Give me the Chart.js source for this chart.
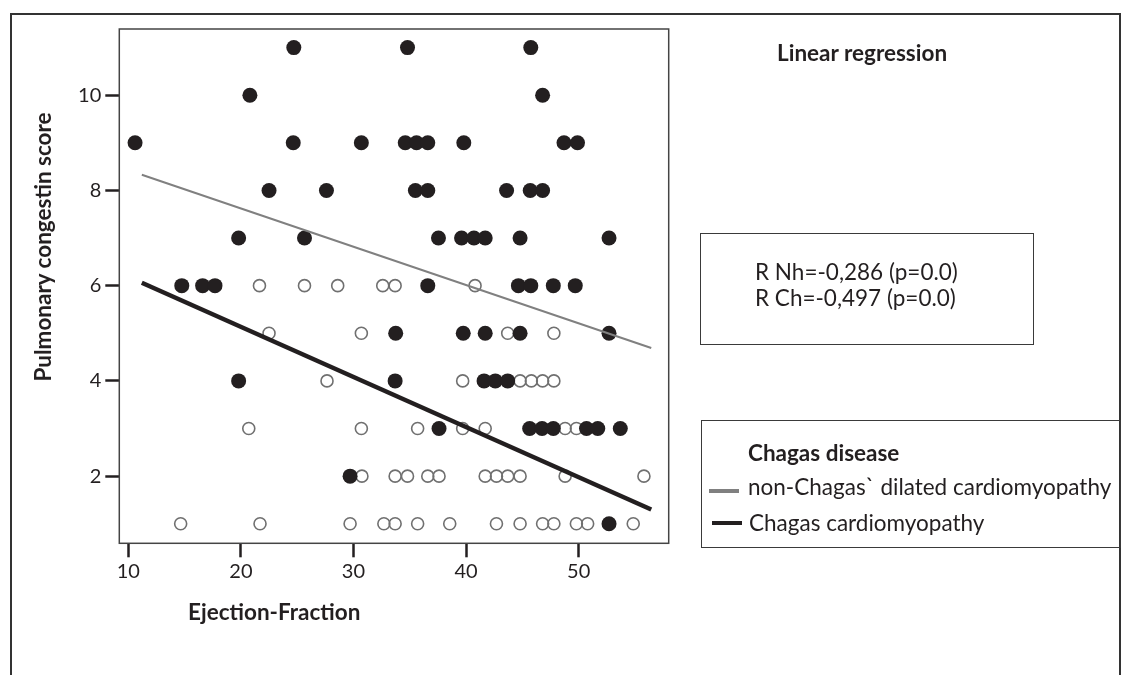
<!DOCTYPE html>
<html>
<head>
<meta charset="utf-8">
<script src="https://cdn.jsdelivr.net/npm/chart.js@4.4.1/dist/chart.umd.min.js"></script>
<style>
  html, body { margin: 0; padding: 0; background: #fff; }
  #wrap { position: relative; width: 1123px; height: 675px; overflow: hidden; font-family: Lato, "Open Sans", sans-serif; color: #231f20; }
  #c { position: absolute; left: 0; top: 0; }
  .abs { position: absolute; white-space: nowrap; }
  .vc { transform: translateY(-50%); line-height: 1; }
  .box { position: absolute; border: 1.5px solid #3a3a3a; box-sizing: border-box; }
  .bar { position: absolute; height: 4px; }
  .t { font-size: 22.5px; }
  .b { font-weight: bold; }
</style>
</head>
<body>
<div id="wrap">
  <canvas id="c" width="1123" height="675"></canvas>
  <div class="abs" style="left:10px; top:13px; width:1111px; height:700px; border:2px solid #333; border-bottom:none; box-sizing:border-box;"></div>
  <div class="abs t b" style="left:43px; top:247px; line-height:1; transform: translate(-50%,-50%) rotate(-90deg);">Pulmonary congestin score</div>
  <div class="abs vc t b" style="left:777px; top:53px;">Linear regression</div>
  <div class="box" style="left:700px; top:233px; width:334px; height:112px;"></div>
  <div class="abs vc t" style="left:755px; top:272px;">R Nh=-0,286 (p=0.0)</div>
  <div class="abs vc t" style="left:755px; top:298px;">R Ch=-0,497 (p=0.0)</div>
  <div class="box" style="left:701px; top:420px; width:420px; height:128px;"></div>
  <div class="abs vc t b" style="left:748px; top:453px;">Chagas disease</div>
  <div class="bar" style="left:709px; top:489px; width:30px; background:#808080;"></div>
  <div class="abs vc t" style="left:748px; top:487px;">non-Chagas` dilated cardiomyopathy</div>
  <div class="bar" style="left:712px; top:521px; width:30px; background:#231f20;"></div>
  <div class="abs vc t" style="left:749px; top:523px;">Chagas cardiomyopathy</div>
  <div class="abs vc t b" style="left:188px; top:612px;">Ejection-Fraction</div>
</div>
<script>
// ---- data ----
const xTicks = [10, 20, 30, 40, 50];
const yTicks = [2, 4, 6, 8, 10];

// non-Chagas dilated cardiomyopathy (filled markers)
const nonChagasX = [
  24.7, 34.8, 45.75,
  20.8, 46.8,
  10.6, 24.65, 30.7, 34.6, 35.6, 36.6, 39.8, 48.7, 49.9,
  22.5, 27.6, 35.5, 36.6, 43.6, 45.7, 46.8,
  19.8, 25.65, 37.55, 39.6, 40.7, 41.7, 44.8, 52.7,
  14.75, 16.6, 17.7, 36.6, 44.65, 45.75, 47.75, 49.7,
  33.75, 39.75, 41.7, 44.8, 52.7,
  19.8, 33.7, 41.6, 42.6, 43.7,
  37.6, 45.65, 46.75, 47.75, 50.7, 51.7, 53.7,
  29.7,
  52.7
];
const nonChagasY = [
  11, 11, 11,
  10, 10,
  9, 9, 9, 9, 9, 9, 9, 9, 9,
  8, 8, 8, 8, 8, 8, 8,
  7, 7, 7, 7, 7, 7, 7, 7,
  6, 6, 6, 6, 6, 6, 6, 6,
  5, 5, 5, 5, 5,
  4, 4, 4, 4, 4,
  3, 3, 3, 3, 3, 3, 3,
  2,
  1
];

// Chagas cardiomyopathy (open markers)
const chagasX = [
  21.65, 25.65, 28.6, 32.6, 33.7, 40.8,
  22.5, 30.7, 43.7, 47.8,
  27.65, 39.7, 44.8, 45.8, 46.8, 47.8,
  20.7, 30.7, 35.7, 39.7, 41.7, 48.8, 49.8,
  30.75, 33.7, 34.8, 36.6, 37.6, 41.7, 42.7, 43.7, 44.8, 48.8, 55.8,
  14.65, 21.7, 29.7, 32.7, 33.7, 35.7, 38.55, 42.7, 44.8, 46.8, 47.8, 49.8, 50.8, 54.85
];
const chagasY = [
  6, 6, 6, 6, 6, 6,
  5, 5, 5, 5,
  4, 4, 4, 4, 4, 4,
  3, 3, 3, 3, 3, 3, 3,
  2, 2, 2, 2, 2, 2, 2, 2, 2, 2, 2,
  1, 1, 1, 1, 1, 1, 1, 1, 1, 1, 1, 1, 1, 1
];

// regression fit lines (end points)
const fitNonChagasX = [11.2, 56.45];
const fitNonChagasY = [8.33, 4.69];
const fitChagasX = [11.2, 56.45];
const fitChagasY = [6.06, 1.30];

const pts = (xs, ys) => xs.map((x, i) => ({ x: x, y: ys[i] }));

const frame = {
  id: 'frame',
  afterDraw(chart) {
    const a = chart.chartArea, ctx = chart.ctx;
    ctx.save();
    ctx.strokeStyle = '#444';
    ctx.lineWidth = 1.5;
    ctx.strokeRect(a.left, a.top, a.right - a.left, a.bottom - a.top);
    ctx.restore();
  }
};

new Chart(document.getElementById('c'), {
  type: 'scatter',
  data: {
    datasets: [
      { type: 'line', label: 'fit non-Chagas', data: pts(fitNonChagasX, fitNonChagasY), borderColor: '#808080', borderWidth: 2, pointRadius: 0, fill: false, order: 0 },
      { type: 'line', label: 'fit Chagas', data: pts(fitChagasX, fitChagasY), borderColor: '#231f20', borderWidth: 4.5, pointRadius: 0, fill: false, order: 0 },
      { label: 'non-Chagas` dilated cardiomyopathy', data: pts(nonChagasX, nonChagasY), pointRadius: 7.5, pointBackgroundColor: '#231f20', pointBorderColor: '#231f20', pointBorderWidth: 0, order: 1 },
      { label: 'Chagas cardiomyopathy', data: pts(chagasX, chagasY), pointRadius: 6, pointBackgroundColor: 'rgba(0,0,0,0)', pointBorderColor: '#707070', pointBorderWidth: 1.6, order: 2 }
    ]
  },
  options: {
    responsive: false,
    animation: false,
    events: [],
    layout: { padding: { left: 0, top: 29, right: 454.3, bottom: 0 } },
    plugins: { legend: { display: false }, tooltip: { enabled: false } },
    scales: {
      x: {
        type: 'linear', min: 9.2, max: 58.0,
        afterBuildTicks: s => { s.ticks = xTicks.map(v => ({ value: v })); },
        afterFit: s => { s.height = 131.7; },
        grid: { display: true, drawOnChartArea: false, drawTicks: true, tickLength: 14, tickWidth: 2.5, tickColor: '#231f20' },
        border: { display: false },
        ticks: { color: '#231f20', padding: 2, font: { family: 'Lato', size: 20 } },
        title: { display: false }
      },
      y: {
        type: 'linear', min: 0.59, max: 11.39,
        afterBuildTicks: s => { s.ticks = yTicks.map(v => ({ value: v })); },
        afterFit: s => { s.width = 119.3; },
        grid: { display: true, drawOnChartArea: false, drawTicks: true, tickLength: 14, tickWidth: 2.5, tickColor: '#231f20' },
        border: { display: false },
        ticks: { color: '#231f20', padding: 4, font: { family: 'Lato', size: 20 } },
        title: { display: false }
      }
    }
  },
  plugins: [frame]
});
</script>
</body>
</html>
